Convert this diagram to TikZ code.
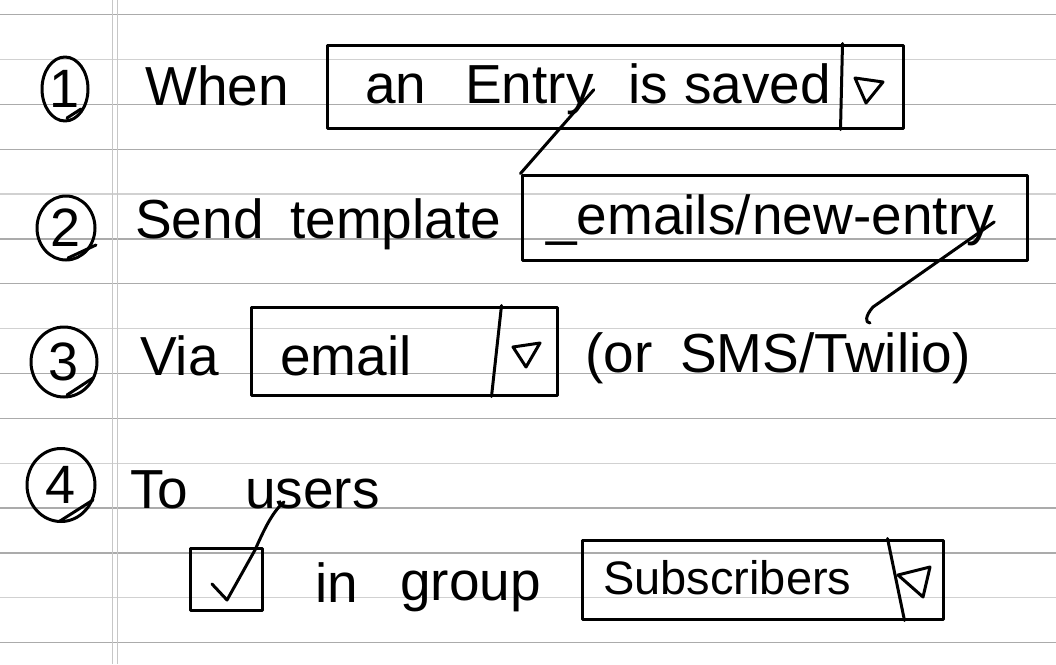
\documentclass[tikz,border=0pt]{standalone}
\usepackage{fontspec}
\setmainfont{Liberation Sans}
\usetikzlibrary{shapes.geometric}
\begin{document}
\begin{tikzpicture}[x=1pt,y=-1pt,
  pen/.style={line width=3pt,line cap=round,line join=round},
  ruledark/.style={line width=1.3pt,draw=black!33},
  rulelight/.style={line width=1.3pt,draw=black!18},
  margin/.style={line width=1.3pt,draw=black!22},
  word/.style={font=\fontsize{55}{60}\selectfont,inner sep=0pt,anchor=base west},
  smallword/.style={font=\fontsize{47}{50}\selectfont,inner sep=0pt,anchor=base west},
  bubble/.style={pen,draw,ellipse,inner sep=0pt,font=\fontsize{54}{58}\selectfont},
  field/.style={pen,draw,rectangle,inner sep=0pt},
]
\useasboundingbox (0,0) rectangle (1056,664);
\fill[white] (0,0) rectangle (1056,664);

% ruled notebook paper
\foreach \k in {0,2,3,5,6,8,9,11,12,14}
  \draw[ruledark] (0,{14.7+44.85*\k}) -- (1056,{14.7+44.85*\k});
\foreach \k in {1,4,7,10,13}
  \draw[rulelight] (0,{14.7+44.85*\k}) -- (1056,{14.7+44.85*\k});
\draw[margin] (112.5,0) -- (112.5,664);
\draw[margin] (117.5,0) -- (117.5,664);

% step numbers
\node[bubble,minimum width=46,minimum height=64] (c1) at (65,89) {1};
\node[bubble,minimum width=58,minimum height=64] (c2) at (66,228) {2};
\node[bubble,minimum width=66,minimum height=70] (c3) at (64,362) {3};
\node[bubble,minimum width=68,minimum height=73] (c4) at (61,485) {4};
\draw[pen] ([shift={(2,29)}]c1.center) -- ([shift={(16,20)}]c1.center);
\draw[pen] ([shift={(2,30)}]c2.center) -- ([shift={(30,17)}]c2.center);
\draw[pen] ([shift={(3,33)}]c3.center) -- ([shift={(29,16)}]c3.center);
\draw[pen] ([shift={(-1,36)}]c4.center) -- ([shift={(32,15)}]c4.center);

% 1: trigger
\node[word] (when) at (145,105) {When};
\node[field,minimum width=576,minimum height=83] (b1) at (615,86.5) {};
\draw[pen] ([xshift=-62]b1.north east) -- ([xshift=-64]b1.south east);
\draw[pen] (855,78) -- (883,82) -- (866,103) -- cycle;
\node[word] (an) at (365,103) {an};
\node[word] (entryw) at (465,103) {Entry};
\node[word] (is) at (628,103) {is};
\node[word] (saved) at (684,103) {saved};

% 2: template
\node[word] (send) at (135,238) {Send};
\node[word] (template) at (290,238) {template};
\node[field,minimum width=505,minimum height=85] (b2) at (774.5,217.5) {};
\node[word] (emails) at (546,234) {\_emails/};
\node[word] (newd) at (752,234) {new-};
\node[word] (entry) at (newd.base east) {entry};

% 3: channel
\node[word] (via) at (140,375) {Via};
\node[field,minimum width=306,minimum height=88] (b3) at (404,351) {};
\draw[pen] ([xshift=-57]b3.north east) -- ([xshift=-67]b3.south east);
\draw[pen] (513,347) -- (540,343) -- (526,367) -- cycle;
\node[word] (email) at (280,375) {email};
\node[word] (orw) at (585,372) {(or};
\node[word] (twilio) at (680,372) {SMS/Twilio)};

% 4: recipients
\node[word] (to) at (130,508) {To};
\node[word] (users) at (245,508) {users};
\node[field,minimum width=72,minimum height=62] (chk) at (226,579) {};
\node[word] (in) at (315,602) {in};
\node[word] (group) at (400,600) {group};
\node[field,minimum width=361,minimum height=79] (b4) at (762.5,579.5) {};
\draw[pen] ([xshift=-57]b4.north east) -- ([xshift=-40]b4.south east);
\draw[pen] (898,575) -- (930,567) -- (923,597) -- cycle;
\node[smallword] (subs) at (603,594) {Subscribers};

% linking strokes
\draw[pen] (entryw.east) -- (b2.north west);
\coordinate (hook) at (870,323);
\draw[pen] (entry.east) -- ([shift={(3,-16)}]hook)
  .. controls ([shift={(-5,-7)}]hook) and ([shift={(-5,0)}]hook) .. (hook);
\draw[pen] ([shift={(-14,5)}]chk.center) -- ([shift={(1,21)}]chk.center)
  -- ([shift={(29,-29)}]chk.center)
  .. controls +(8,-18) and +(-12,10) .. ([shift={(39,-6)}]users.base west);
\end{tikzpicture}
\end{document}
